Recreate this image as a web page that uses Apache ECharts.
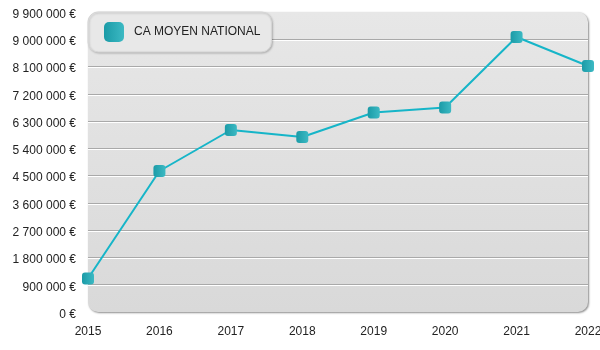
<!DOCTYPE html>
<html>
<head>
<meta charset="utf-8">
<script src="https://cdn.jsdelivr.net/npm/echarts@6/dist/echarts.min.js"></script>
<style>html,body{margin:0;padding:0;background:#fff}#c{width:600px;height:350px}</style>
</head>
<body>
<div id="c"></div>
<script>
var categories = ['2015', '2016', '2017', '2018', '2019', '2020', '2021', '2022'];
var seriesName = 'CA MOYEN NATIONAL';
var values = [1105000, 4653000, 6006000, 5775000, 6584000, 6749000, 9075000, 8118000];
var yMin = 0, yMax = 9900000, yStep = 900000;

function fmt(v) {
  return '{a|' + String(v).replace(/\B(?=(\d{3})+(?!\d))/g, ' ') + ' €}';
}

var chart = echarts.init(document.getElementById('c'), null, {renderer: 'canvas'});
var font = 'Liberation Sans, Arial, sans-serif';
chart.setOption({
  backgroundColor: '#ffffff',
  animation: false,
  textStyle: {fontFamily: font},
  graphic: [{
    type: 'rect',
    left: 88, top: 12, z: -10, silent: true,
    shape: {width: 500, height: 300, r: 10},
    style: {
      fill: new echarts.graphic.LinearGradient(0, 0, 0, 1, [
        {offset: 0, color: '#e7e7e7'}, {offset: 1, color: '#d9d9d9'}]),
      shadowColor: 'rgba(0,0,0,0.45)', shadowBlur: 2, shadowOffsetX: 1, shadowOffsetY: 1
    }
  }],
  grid: {left: 88, right: 12, top: 12, bottom: 38, containLabel: false, outerBoundsMode: 'none'},
  legend: {
    left: 88, top: 12, z: 20,
    padding: [10, 11, 10, 16],
    itemWidth: 20, itemHeight: 20, itemGap: 10,
    backgroundColor: '#e8e8e8',
    borderColor: '#d6d6d6', borderWidth: 1, borderRadius: 10,
    shadowColor: 'rgba(0,0,0,0.2)', shadowBlur: 2, shadowOffsetX: 1, shadowOffsetY: 1,
    textStyle: {fontSize: 12, color: '#222', fontFamily: font, padding: [0, 0, 0, 5]},
    data: [{name: seriesName, icon: 'roundRect'}]
  },
  xAxis: {
    type: 'category', data: categories, boundaryGap: false,
    axisLine: {show: false}, axisTick: {show: false},
    axisLabel: {fontSize: 12, color: '#222', margin: 14, fontFamily: font},
    splitLine: {show: false}
  },
  yAxis: {
    type: 'value', min: yMin, max: yMax, interval: yStep,
    axisLine: {show: false}, axisTick: {show: false},
    axisLabel: {fontSize: 12, color: '#222', margin: 12, fontFamily: font, formatter: fmt,
      rich: {a: {fontSize: 12, color: '#222', fontFamily: font, padding: [5, 0, 0, 0]}}},
    splitLine: {show: true, showMinLine: false, showMaxLine: false,
      lineStyle: {color: '#a9a9a9', width: 1, shadowColor: '#ffffff', shadowOffsetY: 1, shadowBlur: 0}}
  },
  series: [{
    name: seriesName, type: 'line', data: values,
    symbol: 'roundRect', symbolSize: 12, showSymbol: true,
    lineStyle: {color: '#16b5c8', width: 2},
    itemStyle: {
      color: new echarts.graphic.LinearGradient(0, 0, 1, 0, [
        {offset: 0, color: '#1b9ba7'}, {offset: 1, color: '#3cb9c3'}]),
      borderWidth: 0
    },
    z: 5
  }]
});
</script>
</body>
</html>
